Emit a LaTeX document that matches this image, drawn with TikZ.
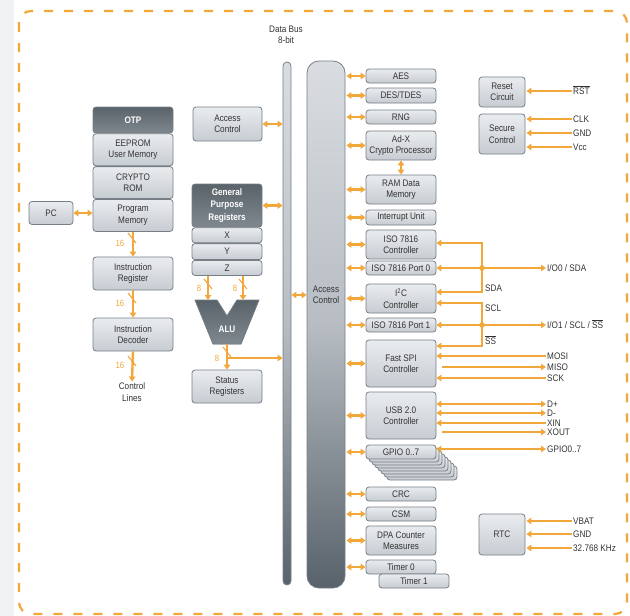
\documentclass[tikz,border=0pt]{standalone}
\usepackage{fontspec}
\setmainfont{Liberation Sans}[FakeStretch=0.86]
\usepackage{tikz}
\usetikzlibrary{arrows.meta,positioning}
\definecolor{busorange}{HTML}{F2A73B}
\definecolor{boxline}{HTML}{777E86}
\definecolor{boxtop}{HTML}{E9ECEF}
\definecolor{boxbot}{HTML}{C7CCD2}
\definecolor{darktop}{HTML}{5B636A}
\definecolor{darkbot}{HTML}{80888F}
\definecolor{pilltop}{HTML}{D9DDE1}
\definecolor{pillmid}{HTML}{B7BDC3}
\definecolor{pillbot}{HTML}{58626A}
\definecolor{txt}{HTML}{333333}
\definecolor{edgegray}{HTML}{F1F2F3}

\begin{document}
\begin{tikzpicture}[x=1pt,y=-1pt,
  every node/.style={font=\fontsize{9.5}{11.5}\selectfont,text=txt,align=center},
  box/.style={draw=boxline,line width=0.8pt,rounded corners=3pt,
              top color=boxtop,bottom color=boxbot,
              inner sep=0pt,minimum width=70pt},
  darkbox/.style={box,top color=darktop,bottom color=darkbot,text=white,
              font=\fontsize{9.5}{12.5}\selectfont\bfseries},
  pill/.style={draw=boxline,line width=0.8pt,top color=pilltop,
              bottom color=pillbot,middle color=pillmid,inner sep=0pt},
  busline/.style={draw=busorange,line width=2.4pt},
  arr/.style={busline,-{Triangle[length=5pt,width=6.5pt]}},
  darr/.style={busline,{Triangle[length=5pt,width=6.5pt]}-{Triangle[length=5pt,width=6.5pt]}},
  sig/.style={anchor=west,inner sep=1pt,text height=6.8pt,text depth=0pt},
  num/.style={text=busorange,font=\fontsize{9}{10}\selectfont,inner sep=1pt},
  tick/.style={draw=busorange,line width=1.1pt},
  frame/.style={draw=busorange,line width=2.2pt,dash pattern=on 9pt off 11pt,
              rounded corners=12pt}
]
\useasboundingbox (0,0) rectangle (630,616);
\fill[edgegray] (0,0) rectangle (14,616);
\draw[frame] (19,11) rectangle (627,614);

% data bus and access control
\node (dbus) at (286,35) {Data Bus\\8-bit};
\node[pill,minimum width=8pt,minimum height=523pt,rounded corners=4pt] (bus) at (287,323.5) {};
\node[pill,minimum width=38pt,minimum height=527pt,rounded corners=12pt] (acc) at (326,324.5) {};
\node (acctxt) at (326,295) {Access\\Control};
\draw[darr] (bus.east |- acctxt) -- (acc.west |- acctxt);

% core
\node[box,minimum width=69pt,minimum height=34pt] (lacc) at (227.5,124) {Access\\Control};
\node[darkbox,minimum width=80pt,minimum height=26pt] (otp) at (133,120) {OTP};
\node[box,minimum width=80pt,minimum height=32pt,below=0pt of otp] (eeprom) {EEPROM\\User Memory};
\node[box,minimum width=80pt,minimum height=32pt,below=0pt of eeprom] (crypto) {CRYPTO\\ROM};
\node[box,minimum width=80pt,minimum height=32pt,below=0pt of crypto] (prog) {Program\\Memory};
\node[box,minimum width=44pt,minimum height=23pt] (pc) at (51,213) {PC};
\node[box,minimum width=80pt,minimum height=33pt] (ir) at (133,273.5) {Instruction\\Register};
\node[box,minimum width=80pt,minimum height=33pt] (idec) at (133,334.5) {Instruction\\Decoder};
\node[inner sep=1pt] (ctrl) at (132,392) {Control\\Lines};

\node[darkbox,minimum width=70pt,minimum height=43pt] (gpr) at (227,205.5) {General\\Purpose\\Registers};
\node[box,minimum height=15pt,below=0pt of gpr] (rx) {X};
\node[box,minimum height=16pt,below=0pt of rx] (ry) {Y};
\node[box,minimum height=15pt,below=0pt of ry] (rz) {Z};
\filldraw[draw=boxline,line width=0.8pt,top color=darktop,bottom color=darkbot]
  (195,300) -- (217,300) -- (227,316) -- (237,300) -- (259,300)
  -- (241,344) -- (213,344) -- cycle;
\node[text=white,font=\fontsize{9.5}{11}\selectfont\bfseries] (alu) at (227,329) {ALU};
\node[box,minimum width=70pt,minimum height=33pt] (stat) at (227,386.5) {Status\\Registers};
\coordinate (alua) at (208,300);
\coordinate (alub) at (243,300);
\coordinate (aluo) at (227,344);
\coordinate (brk) at (227,358);

\draw[darr] (pc.east) -- (pc.east -| prog.west);
\draw[darr] (lacc.east) -- (lacc.east -| bus.west);
\draw[darr] (gpr.east) -- (gpr.east -| bus.west);
\draw[arr] (prog.south) -- (ir.north);
\draw[arr] (ir.south) -- (idec.north);
\draw[arr] (idec.south) -- (ctrl.north);
\draw[arr] (rz.south -| alua) -- (alua);
\draw[arr] (rz.south -| alub) -- (alub);
\draw[arr] (aluo) -- (stat.north);
\draw[arr] (brk) -- (brk -| bus.west);

\draw[tick] (128,233) -- (136,243);
\draw[tick] (128,293) -- (136,303);
\draw[tick] (128,356) -- (136,366);
\draw[tick] (204,279) -- (212,289);
\draw[tick] (239,279) -- (247,289);
\draw[tick] (223,347) -- (231,357);
\node[num] (w1) at (120,243) {16};
\node[num] (w2) at (120,303) {16};
\node[num] (w3) at (120,365) {16};
\node[num] (w4) at (199,288) {8};
\node[num] (w5) at (235,288) {8};
\node[num] (w6) at (217,358) {8};

% peripherals
\node[box,minimum height=14pt] (aes) at (401,76) {AES};
\node[box,minimum height=15pt] (des) at (401,95.5) {DES/TDES};
\node[box,minimum height=14pt] (rng) at (401,117) {RNG};
\node[box,minimum height=29pt] (adx) at (401,145.5) {Ad-X\\Crypto Processor};
\node[box,minimum height=29pt] (ram) at (401,189.5) {RAM Data\\Memory};
\node[box,minimum height=15pt] (intr) at (401,217.5) {Interrupt Unit};
\node[box,minimum height=29pt] (isoc) at (401,244.5) {ISO 7816\\Controller};
\node[box,minimum height=14pt] (port0) at (401,268) {ISO 7816 Port 0};
\node[box,minimum height=29pt] (i2c) at (401,298.5) {I\textsuperscript{2}C\\Controller};
\node[box,minimum height=14pt] (port1) at (401,325) {ISO 7816 Port 1};
\node[box,minimum height=47pt] (spi) at (401,363.5) {Fast SPI\\Controller};
\node[box,minimum height=47pt] (usb) at (401,415.5) {USB 2.0\\Controller};
\foreach \k in {7,6,...,1}
  \node[box,minimum height=14pt] (gsh\k) at (401+3*\k,452+3*\k) {};
\node[box,minimum height=14pt] (gpio) at (401,452) {GPIO 0..7};
\node[box,minimum height=14pt] (crc) at (401,494) {CRC};
\node[box,minimum height=14pt] (csm) at (401,514) {CSM};
\node[box,minimum height=29pt] (dpa) at (401,540.5) {DPA Counter\\Measures};
\node[box,minimum height=14pt] (tim0) at (401,567) {Timer 0};
\node[box,minimum height=14pt] (tim1) at (414,581) {Timer 1};

\foreach \m in {aes,des,rng,adx,ram,intr,isoc,port0,i2c,port1,spi,usb,gpio,crc,csm,dpa,tim0}
  \draw[darr,shorten <=1pt] (acc.east |- \m.west) -- (\m.west);
\draw[darr] (adx.south) -- (ram.north);

% system blocks
\node[box,minimum width=46pt,minimum height=30pt] (reset) at (502,92) {Reset\\Circuit};
\node[box,minimum width=46pt,minimum height=40pt] (secure) at (502,134) {Secure\\Control};
\node[box,minimum width=46pt,minimum height=41pt] (rtc) at (502,534.5) {RTC};
\node[sig] (rst) at (572,91) {$\overline{\hbox{RST}}$};
\node[sig] (clk) at (572,119) {CLK};
\node[sig] (gnd) at (572,133) {GND};
\node[sig] (vcc) at (572,147) {Vcc};
\node[sig] (vbat) at (572,521) {VBAT};
\node[sig] (gnd2) at (572,534) {GND};
\node[sig] (xtal) at (572,548) {32.768 KHz};
\foreach \s/\b in {rst/reset,clk/secure,gnd/secure,vcc/secure,vbat/rtc,gnd2/rtc,xtal/rtc}
  \draw[arr,shorten >=1pt] (\s.west) -- (\s.west -| \b.east);

% external interfaces
\node[sig] (io0) at (546,268) {I/O0 / SDA};
\node[sig] (io1) at (546,325) {I/O1 / SCL / $\overline{\hbox{SS}}$};
\node[sig] (mosi) at (546,356) {MOSI};
\node[sig] (miso) at (546,367) {MISO};
\node[sig] (sck) at (546,378) {SCK};
\node[sig] (dp) at (546,404) {D+};
\node[sig] (dm) at (546,413) {D-};
\node[sig] (xin) at (546,423) {XIN};
\node[sig] (xout) at (546,432) {XOUT};
\node[sig] (gpo) at (546,449) {GPIO0..7};
\node[sig] (sda) at (484,288) {SDA};
\node[sig] (scl) at (484,308) {SCL};
\node[sig] (ssl) at (484,341) {$\overline{\hbox{SS}}$};

\coordinate (sdatop) at (482,243);
\coordinate (sdabot) at (482,292);
\coordinate (scltop) at (482,303);
\coordinate (sclbot) at (482,346);
\draw[busline,line cap=rect] (sdatop) -- (sdabot);
\draw[busline,line cap=rect] (scltop) -- (sclbot);
\draw[arr] (sdatop) -- (sdatop -| isoc.east);
\draw[arr] (sdabot) -- (sdabot -| i2c.east);
\draw[arr] (scltop) -- (scltop -| i2c.east);
\draw[arr] (sclbot) -- (sclbot -| spi.east);
\draw[darr] (port0.east) -- (io0.west);
\draw[darr] (port1.east) -- (io1.west);
\fill[busorange] (sdatop |- io0) circle (2.8pt);
\fill[busorange] (sdatop |- io1) circle (2.8pt);

\draw[arr] (mosi.west) -- (mosi.west -| spi.east);
\draw[arr] ([xshift=6pt]spi.east |- miso.west) -- (miso.west);
\draw[arr] (sck.west) -- (sck.west -| spi.east);
\draw[darr] (usb.east |- dp.west) -- (dp.west);
\draw[darr] (usb.east |- dm.west) -- (dm.west);
\draw[arr] (xin.west) -- (xin.west -| usb.east);
\draw[arr] ([xshift=6pt]usb.east |- xout.west) -- (xout.west);
\draw[darr] (gpio.east |- gpo.west) -- (gpo.west);
\end{tikzpicture}
\end{document}
